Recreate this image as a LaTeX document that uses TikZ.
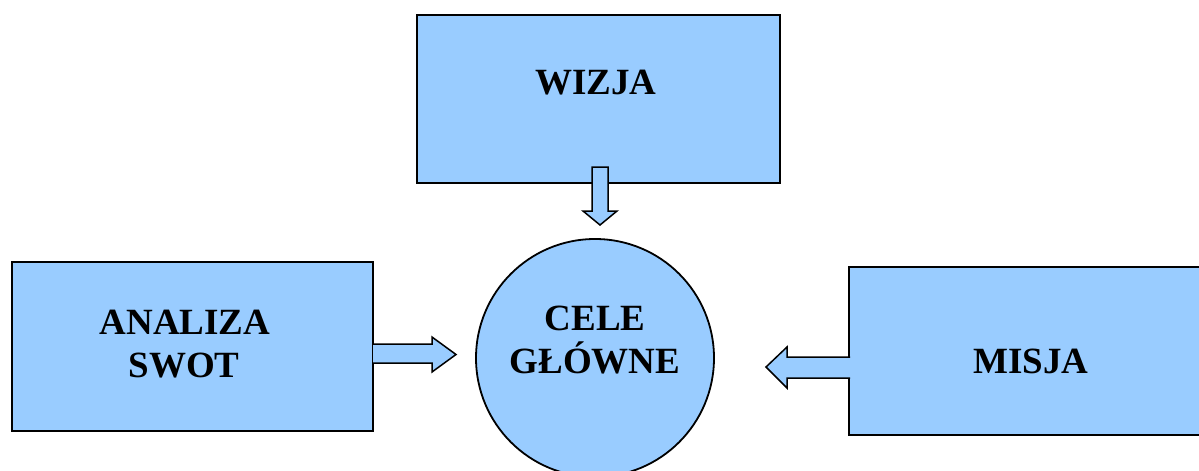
\documentclass[tikz,border=0pt]{standalone}
\usepackage{fontspec}
\setmainfont{Liberation Serif}
\begin{document}
\begin{tikzpicture}[x=1pt,y=-1pt,
  boxfill/.style={fill=boxblue,draw=black,line width=1.8pt},
  blockarrow/.style={fill=boxblue,draw=black,line width=1.5pt,line join=miter},
  lbl/.style={font=\bfseries\fontsize{37}{43}\selectfont,anchor=base,inner sep=0pt}]
\definecolor{boxblue}{RGB}{153,204,255}
\useasboundingbox (0,0) rectangle (1199,471);
% boxes
\node[boxfill,minimum width=363pt,minimum height=168pt,inner sep=0pt] (wizja) at (598.5,99) {};
\node[boxfill,minimum width=361pt,minimum height=169pt,inner sep=0pt] (swot) at (192.5,346.5) {};
\node[boxfill,minimum width=370pt,minimum height=168pt,inner sep=0pt] (misja) at (1034,351) {};
\node[boxfill,circle,minimum size=238pt,inner sep=0pt] (cele) at (595,358) {};
% texts
\node[lbl] (twizja) at (596,94) {WIZJA};
\node[lbl] (tswot1) at (185,334) {ANALIZA};
\node[lbl] (tswot2) at (184,377) {SWOT};
\node[lbl] (tmisja) at (1031,373) {MISJA};
\node[lbl] (tcele1) at (595,330) {CELE};
\node[lbl] (tcele2) at (595,373) {GŁÓWNE};
% block arrows
\draw[blockarrow] (592,167) -- (608,167) -- (608,211) -- (617,211) -- (600,225)
  -- (583,211) -- (592,211) -- cycle;
\draw[blockarrow] (373,344) -- (432,344) -- (432,337) -- (456,354.5) -- (432,372)
  -- (432,363) -- (373,363);
\draw[blockarrow] (850,357) -- (787,357) -- (787,347) -- (766,367) -- (787,388)
  -- (787,378) -- (850,378);
\end{tikzpicture}
\end{document}
